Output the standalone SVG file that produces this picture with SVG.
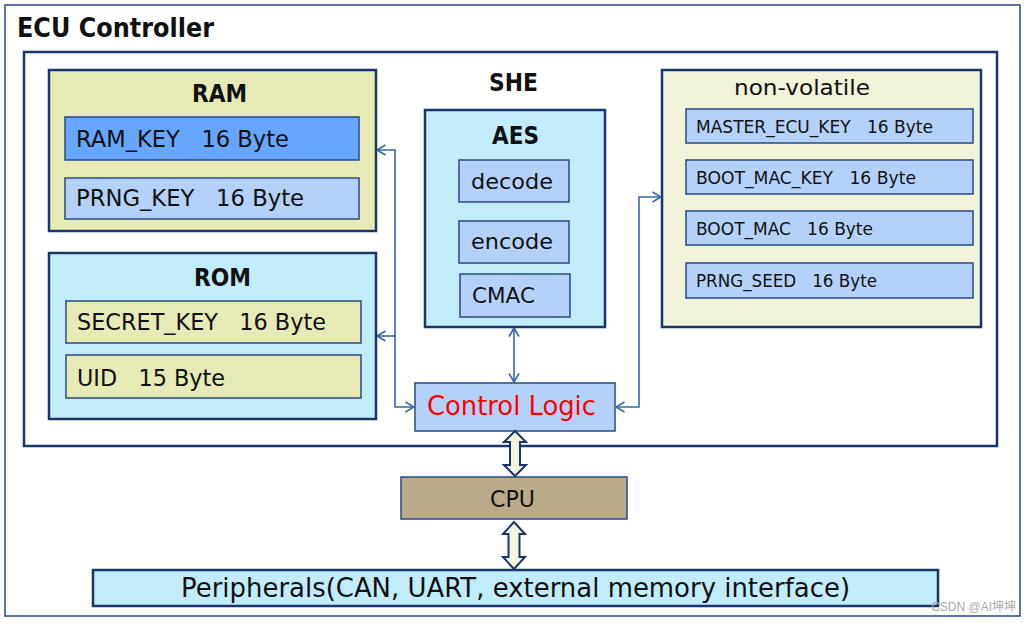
<svg xmlns="http://www.w3.org/2000/svg" width="1028" height="624" viewBox="0 0 1028 624" xml:space="preserve">
<defs>
<style>
text{font-family:"DejaVu Sans","Liberation Sans",sans-serif;fill:#111;white-space:pre}
.b{font-weight:bold}
.box{stroke:#1a3668;stroke-width:2.5}
.row{stroke:#2a4a80;stroke-width:1.5}
.yel{fill:#e6eab4}
.lb{fill:#b5d1f9}
.cy{fill:#c1ecfa}
.conn{fill:none;stroke:#3a66a8;stroke-width:1.6}
.fat{fill:#f3f5dc;stroke:#1a3668;stroke-width:2}
</style>
<marker id="ah" viewBox="0 0 10 12" refX="9.5" refY="6" markerWidth="10" markerHeight="12" markerUnits="userSpaceOnUse" orient="auto-start-reverse">
<path d="M1,1 L9.5,6 L1,11" fill="none" stroke="#3a66a8" stroke-width="1.6"/>
</marker>
</defs>
<rect width="1028" height="624" fill="#fff"/>
<g id="ecu">
<rect x="5" y="5" width="1015" height="611" fill="none" stroke="#2a4a80" stroke-width="1.5"/>
<text x="17" y="37" font-size="26" class="b" textLength="197" lengthAdjust="spacingAndGlyphs">ECU Controller</text>
<rect x="24" y="52" width="973" height="394" fill="none" class="box"/>
</g>
<g id="ram">
<rect x="49" y="70" width="327" height="161" class="box yel"/>
<text x="219.5" y="102" font-size="24" class="b" text-anchor="middle" textLength="55" lengthAdjust="spacingAndGlyphs">RAM</text>
<rect x="65" y="117" width="294" height="43" class="row" fill="#66a6ff"/>
<text x="76" y="147" font-size="23" textLength="213" lengthAdjust="spacingAndGlyphs">RAM_KEY   16 Byte</text>
<rect x="65" y="178" width="294" height="41" class="row lb"/>
<text x="76" y="206" font-size="23" textLength="228" lengthAdjust="spacingAndGlyphs">PRNG_KEY   16 Byte</text>
</g>
<g id="rom">
<rect x="49" y="253" width="327" height="166" class="box cy"/>
<text x="222.5" y="286" font-size="24" class="b" text-anchor="middle" textLength="57" lengthAdjust="spacingAndGlyphs">ROM</text>
<rect x="66" y="301" width="295" height="42" class="row yel"/>
<text x="77" y="330" font-size="23" textLength="249" lengthAdjust="spacingAndGlyphs">SECRET_KEY   16 Byte</text>
<rect x="66" y="355" width="295" height="43" class="row yel"/>
<text x="77" y="386" font-size="23" textLength="148" lengthAdjust="spacingAndGlyphs">UID   15 Byte</text>
</g>
<g id="she">
<text x="513.5" y="91" font-size="24" class="b" text-anchor="middle" textLength="49" lengthAdjust="spacingAndGlyphs">SHE</text>
</g>
<g id="aes">
<rect x="425" y="110" width="180" height="217" class="box cy"/>
<text x="515.5" y="144" font-size="24" class="b" text-anchor="middle" textLength="47" lengthAdjust="spacingAndGlyphs">AES</text>
<rect x="459" y="160" width="110" height="42" class="row lb"/>
<text x="471" y="189" font-size="22" textLength="82" lengthAdjust="spacingAndGlyphs">decode</text>
<rect x="459" y="221" width="110" height="42" class="row lb"/>
<text x="471" y="249" font-size="22" textLength="82" lengthAdjust="spacingAndGlyphs">encode</text>
<rect x="460" y="274" width="110" height="43" class="row lb"/>
<text x="472" y="303" font-size="22" textLength="63" lengthAdjust="spacingAndGlyphs">CMAC</text>
</g>
<g id="nonvolatile">
<rect x="662" y="70" width="319" height="257" class="box" fill="#f1f3da"/>
<text x="734" y="95" font-size="22" textLength="136" lengthAdjust="spacingAndGlyphs">non-volatile</text>
<rect x="686" y="109" width="287" height="34" class="row lb"/>
<text x="696" y="133" font-size="17" textLength="237" lengthAdjust="spacingAndGlyphs">MASTER_ECU_KEY   16 Byte</text>
<rect x="686" y="160" width="287" height="34" class="row lb"/>
<text x="696" y="184" font-size="17" textLength="220" lengthAdjust="spacingAndGlyphs">BOOT_MAC_KEY   16 Byte</text>
<rect x="686" y="211" width="287" height="34" class="row lb"/>
<text x="696" y="235" font-size="17" textLength="177" lengthAdjust="spacingAndGlyphs">BOOT_MAC   16 Byte</text>
<rect x="686" y="263" width="287" height="35" class="row lb"/>
<text x="696" y="287" font-size="17" textLength="181" lengthAdjust="spacingAndGlyphs">PRNG_SEED   16 Byte</text>
</g>
<g id="control">
<rect x="415" y="383" width="200" height="48" class="row lb"/>
<text x="427" y="415" font-size="26" style="fill:#ff0000" textLength="169" lengthAdjust="spacingAndGlyphs">Control Logic</text>
</g>
<g id="cpu">
<rect x="401" y="477" width="226" height="42" class="row" fill="#b8aa8a"/>
<text x="512.5" y="507" font-size="23" text-anchor="middle" textLength="45" lengthAdjust="spacingAndGlyphs">CPU</text>
</g>
<g id="peripherals">
<rect x="93" y="570" width="845" height="36" class="box cy"/>
<text x="181" y="597" font-size="26" textLength="669" lengthAdjust="spacingAndGlyphs">Peripherals(CAN, UART, external memory interface)</text>
</g>
<g id="connectors">
<path class="conn" d="M377,150 H395 V407 H414" marker-start="url(#ah)" marker-end="url(#ah)"/>
<path class="conn" d="M395,336 H377" marker-end="url(#ah)"/>
<path class="conn" d="M616,407 H639 V197 H661" marker-start="url(#ah)" marker-end="url(#ah)"/>
<path class="conn" d="M514,328 V382" marker-start="url(#ah)" marker-end="url(#ah)"/>
<polygon class="fat" points="515,431 526,442 520,442 520,465 526,465 515,476 504,465 510,465 510,442 504,442"/>
<polygon class="fat" points="514,522 525,534 519.5,534 519.5,557 525,557 514,569 503,557 508.5,557 508.5,534 503,534"/>
</g>
<text x="1016" y="611" font-size="12" text-anchor="end" style="fill:#aaa;font-family:'Liberation Sans','Noto Sans CJK SC',sans-serif">CSDN @AI坤坤</text>
</svg>
